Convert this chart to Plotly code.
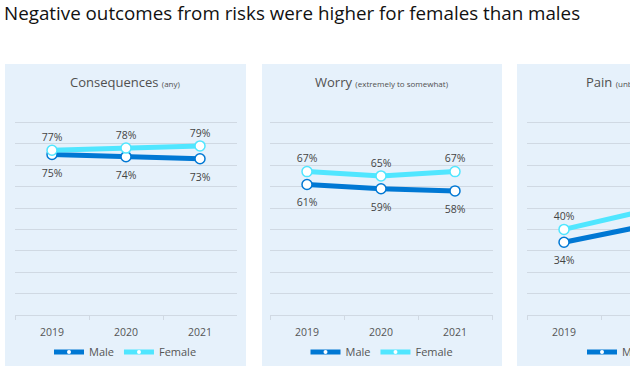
import plotly.graph_objects as go

years = ["2019", "2020", "2021"]
panel_titles = ["Consequences", "Worry", "Pain"]
panel_subtitles = ["(any)", "(extremely to somewhat)", "(unbearable to moderate)"]
male_consequences = [75, 74, 73]
female_consequences = [77, 78, 79]
male_worry = [61, 59, 58]
female_worry = [67, 65, 67]
male_pain = [34, 41, 44]
female_pain = [40, 48, 50]

male_vals = [male_consequences, male_worry, male_pain]
female_vals = [female_consequences, female_worry, female_pain]

MALE = "#0078D4"
FEMALE = "#50E6FF"
BG = "#E6F1FB"
GRID = "#D0D9E3"
TXT = "#444444"
FONT = "Open Sans"

W, H = 630, 368
def px(x):
    return x / W
def py(y):
    return (H - y) / H

# panel geometry (pixels)
panels_bg = [(5, 246), (262, 502), (517, 758)]
plot_x = [(15, 237), (270, 493), (527, 630)]
plot_top, plot_bot = 101, 315
cat_w = 74.0

fig = go.Figure()
legends = ["legend", "legend2", "legend3"]
for i in range(3):
    xa = "x" if i == 0 else f"x{i+1}"
    ya = "y" if i == 0 else f"y{i+1}"
    series = [("Male", male_vals[i], MALE, "bottom center", 21),
              ("Female", female_vals[i], FEMALE, "top center", 9)]
    for name, vals, col, pos, tsz in series:
        fig.add_trace(go.Scatter(
            x=years, y=vals, name=name, mode="lines+markers",
            line=dict(color=col, width=5),
            marker=dict(size=10, color="white", line=dict(color=col, width=1.5)),
            xaxis=xa, yaxis=ya, showlegend=False, cliponaxis=False,
            hoverinfo="skip"))
    for name, vals, col, pos, tsz in series:
        # value labels, offset from the point by an invisible marker
        fig.add_trace(go.Scatter(
            x=years, y=vals, name=name, mode="markers+text",
            text=[f"{v}%" for v in vals], textposition=pos,
            textfont=dict(size=10.5, color=TXT, family=FONT),
            marker=dict(size=tsz, opacity=0),
            xaxis=xa, yaxis=ya, showlegend=False, cliponaxis=False,
            hoverinfo="skip"))
    # legend-only entries (no data) with a small marker, like the reference key
    for name, col in [("Male", MALE), ("Female", FEMALE)]:
        fig.add_trace(go.Scatter(
            x=[None], y=[None], name=name, mode="lines+markers",
            line=dict(color=col, width=5),
            marker=dict(size=4, color="white", line=dict(width=0)),
            xaxis=xa, yaxis=ya, legend=legends[i], showlegend=True,
            hoverinfo="skip"))

layout = dict(
    width=W, height=H, margin=dict(l=0, r=0, t=0, b=0, autoexpand=False),
    paper_bgcolor="white", plot_bgcolor="rgba(0,0,0,0)",
    font=dict(family=FONT, color=TXT),
    showlegend=True,
)
shapes = []
annotations = []
for i in range(3):
    k = "" if i == 0 else str(i + 1)
    x0, x1 = plot_x[i]
    rng_hi = -0.5 + (x1 - x0) / cat_w
    layout["xaxis" + k] = dict(
        domain=[px(x0), px(x1)], type="category", range=[-0.5, rng_hi],
        showgrid=False, showline=True, linecolor=GRID, linewidth=1,
        ticks="outside", tickson="boundaries", ticklen=4, tickcolor=GRID,
        ticklabelstandoff=7,
        tickfont=dict(size=10.5, color="#555555", family=FONT),
        anchor="y" + k, fixedrange=True)
    layout["yaxis" + k] = dict(
        domain=[py(plot_bot), py(plot_top)], range=[0, 100], dtick=10,
        showgrid=True, gridcolor=GRID, gridwidth=1, showticklabels=False,
        zeroline=False, anchor="x" + k, fixedrange=True)
    bx0, bx1 = panels_bg[i]
    shapes.append(dict(type="rect", xref="paper", yref="paper",
                       x0=px(bx0), x1=min(px(bx1), 1.0), y0=py(366), y1=py(64),
                       fillcolor=BG, line=dict(width=0), layer="below"))
    lg = legends[i]
    cx = (bx0 + bx1) / 2
    if i < 2:
        layout[lg] = dict(orientation="h", x=px(cx), xanchor="center", y=py(352),
                          yanchor="middle", bgcolor="rgba(0,0,0,0)",
                          font=dict(size=11, color="#555555", family=FONT),
                          itemwidth=30, tracegroupgap=0)
    else:
        layout[lg] = dict(orientation="h", x=px(582), xanchor="left", y=py(352),
                          yanchor="middle", bgcolor="rgba(0,0,0,0)",
                          font=dict(size=11, color="#555555", family=FONT),
                          itemwidth=30, tracegroupgap=0)
    title_txt = (f"{panel_titles[i]} <span style='font-size:8px'>"
                 f"{panel_subtitles[i]}</span>")
    if i < 2:
        annotations.append(dict(text=title_txt, xref="paper", yref="paper",
                                x=px(cx), y=py(82), xanchor="center",
                                yanchor="middle", showarrow=False,
                                font=dict(size=13, color="#505050", family=FONT)))
    else:
        annotations.append(dict(text=title_txt, xref="paper", yref="paper",
                                x=px(584), y=py(82), xanchor="left",
                                yanchor="middle", showarrow=False,
                                font=dict(size=13, color="#505050", family=FONT)))

annotations.append(dict(text="Negative outcomes from risks were higher for females than males",
                        xref="paper", yref="paper", x=px(2), y=py(13),
                        xanchor="left", yanchor="middle", showarrow=False,
                        font=dict(size=18.8, color="#111111", family=FONT)))
layout["shapes"] = shapes
layout["annotations"] = annotations
fig.update_layout(**layout)
fig.write_html("out.html", config={"displayModeBar": False},
               post_script="document.body.style.margin='0';document.body.style.overflow='hidden';")
